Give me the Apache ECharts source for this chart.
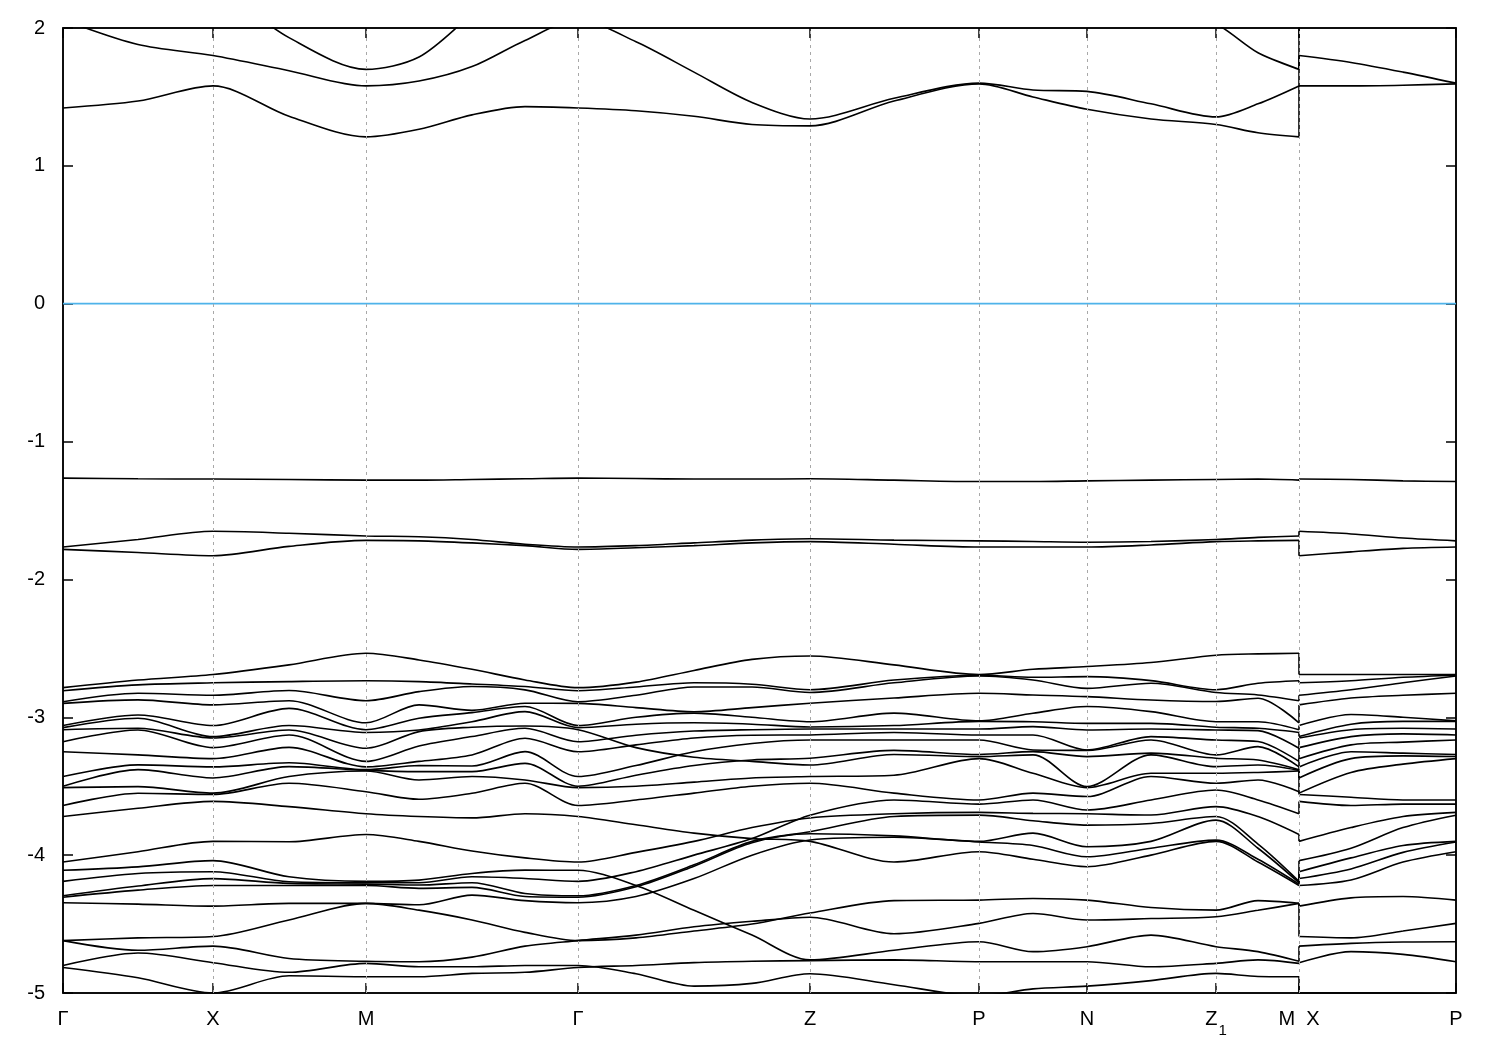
<!DOCTYPE html>
<html><head><meta charset="utf-8">
<script src="https://cdn.jsdelivr.net/npm/echarts@6/dist/echarts.min.js"></script>
<style>html,body{margin:0;padding:0;background:#fff}#c{width:1500px;height:1050px}</style>
</head><body><div id="c"></div>
<script>
// high-symmetry ticks (k distance) and labels
const kTicks  = [0, 150, 303, 515, 747, 916, 1024, 1153, 1236, 1393];
const kLabels = ['Γ', 'X', 'M', 'Γ', 'Z', 'P', 'N', '{z|Z}{s|1}', 'M  X', 'P'];
// sample positions along the path (1236 appears twice: M | X break)
const kPos = [0,75,150,226,303,356,409,462,515,573,631,689,747,831,916,970,1024,1088,1153,1195,1236,1236,1288,1340,1393];
const fermi = [0];

// energies (eV) at each sample position: 3 conduction, 3 flat, 24 valence bands
const eG    = [2.6,2.06,1.42,-1.265,-1.765,-1.782,-2.785,-2.807,-2.887,-2.899,-3.06,-3.075,-3.09,-3.177,-3.25,-3.43,-3.5,-3.51,-3.64,-3.72,-4.05,-4.11,-4.19,-4.295,-4.305,-4.345,-4.62,-4.62,-4.8,-4.815];
const e075  = [2.45,1.88,1.47,-1.27,-1.71,-1.805,-2.73,-2.765,-2.826,-2.874,-2.983,-3.007,-3.08,-3.092,-3.273,-3.345,-3.38,-3.503,-3.551,-3.66,-3.975,-4.085,-4.133,-4.224,-4.254,-4.355,-4.6,-4.69,-4.71,-4.89];
const eX    = [2.3,1.8,1.58,-1.272,-1.651,-1.828,-2.69,-2.75,-2.84,-2.91,-3.06,-3.14,-3.15,-3.22,-3.3,-3.36,-3.44,-3.55,-3.56,-3.61,-3.9,-4.04,-4.12,-4.17,-4.22,-4.37,-4.59,-4.66,-4.78,-5.0];
const e226  = [1.93,1.69,1.36,-1.275,-1.665,-1.76,-2.62,-2.741,-2.806,-2.88,-2.935,-3.06,-3.092,-3.128,-3.218,-3.33,-3.358,-3.43,-3.479,-3.648,-3.903,-4.157,-4.193,-4.205,-4.22,-4.35,-4.47,-4.75,-4.85,-4.875];
const eM    = [1.7,1.58,1.21,-1.28,-1.685,-1.717,-2.536,-2.735,-2.88,-3.04,-3.09,-3.11,-3.225,-3.32,-3.36,-3.38,-3.385,-3.39,-3.54,-3.7,-3.85,-4.19,-4.2,-4.21,-4.22,-4.35,-4.35,-4.77,-4.785,-4.882];
const e356  = [1.79,1.615,1.265,-1.28,-1.69,-1.72,-2.584,-2.741,-2.814,-2.91,-3.007,-3.092,-3.104,-3.208,-3.32,-3.35,-3.394,-3.455,-3.595,-3.72,-3.9,-4.181,-4.2,-4.217,-4.241,-4.36,-4.399,-4.773,-4.81,-4.882];
const e409  = [2.1,1.72,1.37,-1.275,-1.71,-1.735,-2.652,-2.758,-2.777,-2.95,-2.966,-3.032,-3.072,-3.14,-3.273,-3.353,-3.394,-3.43,-3.551,-3.73,-3.97,-4.133,-4.157,-4.2,-4.234,-4.29,-4.47,-4.74,-4.81,-4.858];
const e462  = [2.4,1.91,1.43,-1.27,-1.745,-1.755,-2.729,-2.777,-2.801,-2.898,-2.922,-2.959,-3.063,-3.08,-3.152,-3.249,-3.334,-3.455,-3.479,-3.7,-4.02,-4.109,-4.169,-4.278,-4.3,-4.33,-4.56,-4.66,-4.8,-4.85];
// Γ–Z samples listed band by band in the Γ order (bands cross on this segment)
const e573  = [2.6,1.9,1.4,-1.268,-1.755,-1.77,-2.745,-2.78,-2.84,-2.93,-3.0,-3.05,-3.22,-3.13,-3.2,-3.35,-3.42,-3.5,-3.6,-3.78,-3.98,-4.22,-4.12,-4.22,-4.23,-4.3,-4.6,-4.58,-4.86,-4.8];
const e631  = [2.6,1.68,1.36,-1.272,-1.735,-1.755,-2.66,-2.75,-2.78,-2.96,-2.97,-3.04,-3.29,-3.1,-3.15,-3.25,-3.35,-3.47,-3.55,-3.84,-3.9,-4.4,-4.0,-4.07,-4.08,-4.17,-4.55,-4.52,-4.95,-4.78];
const e689  = [2.5,1.46,1.3,-1.272,-1.715,-1.735,-2.58,-2.76,-2.78,-2.93,-3.0,-3.05,-3.32,-3.09,-3.13,-3.19,-3.31,-3.44,-3.5,-3.88,-3.8,-4.58,-3.88,-3.9,-3.91,-4.0,-4.5,-4.48,-4.93,-4.77];
// from Z on, samples are listed highest first; zOrder links each Γ-ordered valence band to its place at Z
const zOrder = [0,1,2,3,4,5,10,6,7,8,9,11,12,18,14,21,13,15,16,17,19,20,23,22];
const eZ    = [2.4,1.34,1.29,-1.27,-1.705,-1.726,-2.555,-2.8,-2.82,-2.898,-3.032,-3.07,-3.085,-3.128,-3.165,-3.297,-3.346,-3.43,-3.479,-3.71,-3.73,-3.83,-3.845,-3.89,-3.9,-4.42,-4.45,-4.76,-4.765,-4.86];
const e831  = [2.3,1.49,1.47,-1.28,-1.715,-1.745,-2.62,-2.73,-2.75,-2.86,-2.97,-3.06,-3.085,-3.11,-3.165,-3.24,-3.27,-3.42,-3.55,-3.6,-3.7,-3.72,-3.86,-3.87,-4.05,-4.33,-4.57,-4.69,-4.76,-4.94];
const eP    = [2.3,1.6,1.595,-1.29,-1.72,-1.765,-2.69,-2.695,-2.7,-2.826,-3.026,-3.03,-3.085,-3.128,-3.165,-3.27,-3.285,-3.3,-3.6,-3.63,-3.69,-3.71,-3.9,-3.905,-3.975,-4.326,-4.495,-4.628,-4.773,-5.02];
const e970  = [2.3,1.55,1.5,-1.29,-1.725,-1.765,-2.652,-2.71,-2.729,-2.838,-2.971,-3.032,-3.068,-3.128,-3.237,-3.249,-3.273,-3.406,-3.55,-3.6,-3.697,-3.75,-3.84,-3.93,-4.03,-4.314,-4.423,-4.7,-4.773,-4.97];
const eN    = [2.3,1.54,1.41,-1.285,-1.73,-1.765,-2.632,-2.705,-2.79,-2.85,-2.922,-3.044,-3.092,-3.237,-3.24,-3.285,-3.503,-3.51,-3.575,-3.673,-3.7,-3.782,-3.939,-4.012,-4.084,-4.326,-4.471,-4.664,-4.773,-4.95];
const e1088 = [2.2,1.45,1.34,-1.28,-1.725,-1.75,-2.603,-2.734,-2.753,-2.875,-2.959,-3.044,-3.085,-3.14,-3.165,-3.26,-3.273,-3.406,-3.43,-3.6,-3.709,-3.77,-3.9,-3.95,-4.0,-4.38,-4.46,-4.58,-4.81,-4.91];
const eZ1   = [2.03,1.355,1.3,-1.275,-1.71,-1.726,-2.55,-2.8,-2.82,-2.886,-3.032,-3.072,-3.092,-3.165,-3.273,-3.297,-3.358,-3.406,-3.479,-3.528,-3.648,-3.72,-3.746,-3.891,-3.9,-4.399,-4.447,-4.664,-4.785,-4.858];
const e1195 = [1.82,1.45,1.24,-1.272,-1.695,-1.72,-2.54,-2.753,-2.838,-2.862,-3.032,-3.08,-3.097,-3.176,-3.213,-3.31,-3.346,-3.4,-3.455,-3.6,-3.72,-3.92,-3.95,-4.03,-4.05,-4.33,-4.4,-4.7,-4.76,-4.88];
const e1288 = [2.3,1.75,1.58,-1.275,-1.67,-1.8,-2.69,-2.735,-2.8,-2.86,-2.98,-3.05,-3.09,-3.14,-3.2,-3.25,-3.3,-3.4,-3.58,-3.64,-3.8,-3.95,-4.02,-4.1,-4.18,-4.31,-4.6,-4.64,-4.7,-5.0];
const e1340 = [2.3,1.68,1.585,-1.285,-1.7,-1.775,-2.69,-2.71,-2.75,-2.84,-3.0,-3.03,-3.08,-3.12,-3.18,-3.26,-3.28,-3.34,-3.6,-3.63,-3.72,-3.8,-3.93,-3.98,-4.05,-4.3,-4.55,-4.63,-4.72,-5.0];

const path = [eG,e075,eX,e226,eM,e356,e409,e462,eG,e573,e631,e689,eZ,e831,eP,e970,eN,e1088,eZ1,e1195,eM, eX,e1288,e1340,eP];
const firstZ = 12;     // from this sample on, use zOrder
const breakIndex = 21; // first sample after the M|X discontinuity
const nTop = 6;

function energy(i, b) {
  if (i < firstZ || b < nTop) return path[i][b];
  return path[i][nTop + zOrder[b - nTop]];
}

const nb = eG.length;
const series = [];
const lineStyle = {color: '#000', width: 1.6};
for (let b = 0; b < nb; b++) {
  const left = [], right = [];
  for (let i = 0; i < kPos.length; i++) {
    (i < breakIndex ? left : right).push([kPos[i], energy(i, b)]);
  }
  series.push({type: 'line', data: left, smooth: 0.3, symbol: 'none', lineStyle, silent: true, z: 3});
  series.push({type: 'line', data: right, smooth: 0.3, symbol: 'none', lineStyle, silent: true, z: 3});
  series.push({type: 'line', data: [left[left.length - 1], right[0]], smooth: false, symbol: 'none', lineStyle, silent: true, z: 3});
}
// Fermi level
series.push({type: 'line', data: [[0, fermi[0]], [1393, fermi[0]]], symbol: 'none', silent: true, z: 2,
  lineStyle: {color: '#4fb3ea', width: 1.8}});
// dashed verticals at interior k-points
series.push({
  type: 'line', data: [], silent: true, z: 1,
  markLine: {
    silent: true, symbol: ['none', 'none'], label: {show: false}, animation: false,
    lineStyle: {color: '#a8a8a8', type: [3, 4], width: 1},
    data: kTicks.slice(1, -1).map(v => ({xAxis: v}))
  }
});

const font = 'Liberation Sans, Arial, Helvetica, sans-serif';
const chart = echarts.init(document.getElementById('c'), null, {renderer: 'canvas'});
chart.setOption({
  animation: false,
  backgroundColor: '#fff',
  grid: {left: 63, right: 44, top: 28, bottom: 57, show: true, borderColor: '#000', borderWidth: 1.5, backgroundColor: 'transparent'},
  xAxis: [{
    type: 'value', min: 0, max: 1393, position: 'bottom',
    axisLine: {show: true, onZero: false, lineStyle: {color: '#000', width: 1.5}},
    axisTick: {show: true, inside: true, length: 10, customValues: kTicks, lineStyle: {color: '#000', width: 1.5}},
    axisLabel: {
      show: true, customValues: kTicks, margin: 16, color: '#000', fontSize: 20, fontFamily: font,
      formatter: v => kLabels[kTicks.indexOf(v)] || '',
      rich: {
        z: {fontSize: 20, fontFamily: font, color: '#000', padding: [0, 0, 14, 0]},
        s: {fontSize: 15, fontFamily: font, color: '#000', padding: [9, 0, 0, 1]}
      }
    },
    splitLine: {show: false}
  }, {
    type: 'value', min: 0, max: 1393, position: 'top',
    axisLine: {show: true, onZero: false, lineStyle: {color: '#000', width: 1.5}},
    axisTick: {show: true, inside: true, length: 10, customValues: kTicks, lineStyle: {color: '#000', width: 1.5}},
    axisLabel: {show: false}, splitLine: {show: false}
  }],
  yAxis: [{
    type: 'value', min: -5, max: 2, interval: 1, position: 'left',
    axisLine: {show: true, onZero: false, lineStyle: {color: '#000', width: 1.5}},
    axisTick: {show: true, inside: true, length: 10, lineStyle: {color: '#000', width: 1.5}},
    axisLabel: {margin: 18, color: '#000', fontSize: 20, fontFamily: font},
    splitLine: {show: false}
  }, {
    type: 'value', min: -5, max: 2, interval: 1, position: 'right',
    axisLine: {show: true, onZero: false, lineStyle: {color: '#000', width: 1.5}},
    axisTick: {show: true, inside: true, length: 10, lineStyle: {color: '#000', width: 1.5}},
    axisLabel: {show: false}, splitLine: {show: false}
  }],
  series
});
</script></body></html>
